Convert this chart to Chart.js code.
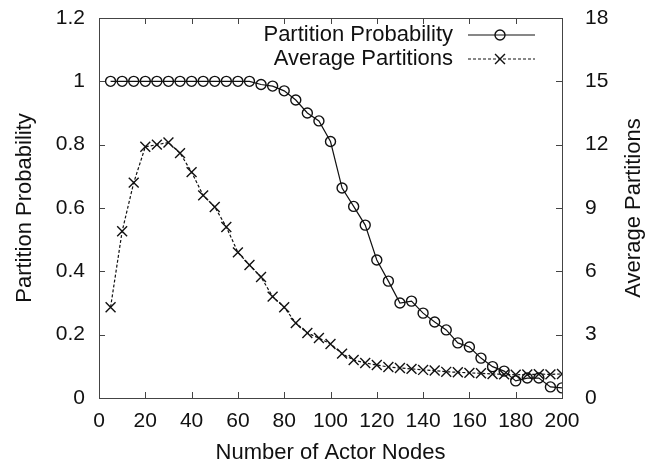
<!DOCTYPE html>
<html>
<head>
<meta charset="utf-8">
<script src="https://cdn.jsdelivr.net/npm/chart.js@4/dist/chart.umd.min.js"></script>
<style>
  html, body { margin: 0; padding: 0; background: #fff; }
  #wrap { width: 651px; height: 466px; }
</style>
</head>
<body>
<div id="wrap"><canvas id="chart" width="651" height="466"></canvas></div>
<script>
// number of actor nodes
const nodes = [5, 10, 15, 20, 25, 30, 35, 40, 45, 50,
  55, 60, 65, 70, 75, 80, 85, 90, 95, 100,
  105, 110, 115, 120, 125, 130, 135, 140, 145, 150,
  155, 160, 165, 170, 175, 180, 185, 190, 195, 200];

// left axis
const partitionProb = [1, 1, 1, 1, 1, 1, 1, 1, 1, 1,
  1, 1, 1, 0.99, 0.985, 0.97, 0.941, 0.9, 0.875, 0.81,
  0.663, 0.605, 0.546, 0.436, 0.369, 0.3, 0.306, 0.268, 0.24, 0.215,
  0.174, 0.161, 0.126, 0.099, 0.085, 0.054, 0.063, 0.063, 0.035, 0.032];

// right axis
const avgPartitions = [4.3, 7.9, 10.2, 11.9, 12.0, 12.1, 11.6, 10.7, 9.6, 9.05,
  8.1, 6.9, 6.3, 5.73, 4.8, 4.3, 3.55, 3.08, 2.84, 2.56,
  2.1, 1.8, 1.66, 1.56, 1.47, 1.42, 1.38, 1.33, 1.3, 1.24,
  1.22, 1.19, 1.17, 1.14, 1.12, 1.1, 1.11, 1.13, 1.12, 1.14];

const xTicks = [0, 20, 40, 60, 80, 100, 120, 140, 160, 180, 200];
const leftTicks = [0, 0.2, 0.4, 0.6, 0.8, 1, 1.2];
const rightTicks = [0, 3, 6, 9, 12, 15, 18];

const FONT = "'Liberation Sans', Arial, Helvetica, sans-serif";
const INK = "#111";
const FRAME = "#444";

function toPoints(xs, ys) {
  return xs.map((x, i) => ({ x: x, y: ys[i] }));
}

// fixed axis box sizes so the plot area lands where the original one is
function fixBox(size) {
  return s => {
    if (s.isHorizontal()) s.height = size; else s.width = size;
    s.paddingTop = 0; s.paddingBottom = 0;
    s.paddingLeft = 0; s.paddingRight = 0;
  };
}

// gnuplot-ish frame, inward ticks, right title and legend
const gnuplotLook = {
  id: "gnuplotLook",
  afterDraw(chart) {
    const ctx = chart.ctx;
    const a = chart.chartArea;
    const xs = chart.scales.x, yl = chart.scales.y, yr = chart.scales.y1;
    const tl = 6;
    ctx.save();
    ctx.strokeStyle = FRAME;
    ctx.lineWidth = 1;
    ctx.beginPath();
    xTicks.forEach(v => {
      const px = Math.round(xs.getPixelForValue(v)) + 0.5;
      ctx.moveTo(px, a.bottom); ctx.lineTo(px, a.bottom - tl);
      ctx.moveTo(px, a.top); ctx.lineTo(px, a.top + tl);
    });
    leftTicks.forEach(v => {
      const py = Math.round(yl.getPixelForValue(v)) + 0.5;
      ctx.moveTo(a.left, py); ctx.lineTo(a.left + tl, py);
    });
    rightTicks.forEach(v => {
      const py = Math.round(yr.getPixelForValue(v)) + 0.5;
      ctx.moveTo(a.right, py); ctx.lineTo(a.right - tl, py);
    });
    ctx.stroke();
    ctx.strokeRect(Math.round(a.left) + 0.5, Math.round(a.top) + 0.5,
      Math.round(a.right - a.left), Math.round(a.bottom - a.top));

    // right axis title, reading bottom to top
    ctx.fillStyle = INK;
    ctx.font = "22px " + FONT;
    ctx.textAlign = "center";
    ctx.textBaseline = "middle";
    ctx.translate(634, (a.top + a.bottom) / 2);
    ctx.rotate(-Math.PI / 2);
    ctx.fillText("Average Partitions", 0, 0);
    ctx.setTransform(1, 0, 0, 1, 0, 0);

    // legend: text on the left, sample line with marker on the right
    chart.data.datasets.forEach((ds, i) => {
      const y = a.top + 17 + i * 24;
      ctx.fillStyle = INK;
      ctx.textAlign = "right";
      ctx.fillText(ds.label, a.right - 109, y);
      ctx.strokeStyle = ds.borderColor;
      ctx.lineWidth = ds.borderWidth;
      ctx.setLineDash(ds.borderDash || []);
      ctx.beginPath();
      ctx.moveTo(a.right - 94, y);
      ctx.lineTo(a.right - 27, y);
      ctx.stroke();
      ctx.setLineDash([]);
      ctx.lineWidth = ds.pointBorderWidth;
      ctx.strokeStyle = ds.pointBorderColor;
      ctx.fillStyle = "transparent";
      Chart.helpers.drawPoint(ctx, {
        pointStyle: ds.pointStyle, radius: ds.pointRadius,
        borderWidth: ds.pointBorderWidth, rotation: 0
      }, a.right - 62, y);
    });
    ctx.restore();
  }
};

new Chart(document.getElementById("chart"), {
  type: "line",
  data: {
    datasets: [
      {
        label: "Partition Probability",
        data: toPoints(nodes, partitionProb),
        yAxisID: "y",
        borderColor: INK,
        borderWidth: 1.2,
        pointStyle: "circle",
        pointRadius: 5,
        pointBorderWidth: 1.4,
        pointBorderColor: INK,
        pointBackgroundColor: "transparent",
        tension: 0,
      },
      {
        label: "Average Partitions",
        data: toPoints(nodes, avgPartitions),
        yAxisID: "y1",
        borderColor: INK,
        borderWidth: 1.2,
        borderDash: [3, 2],
        pointStyle: "crossRot",
        pointRadius: 7,
        pointBorderWidth: 1.4,
        pointBorderColor: INK,
        pointBackgroundColor: "transparent",
        tension: 0,
      },
    ],
  },
  options: {
    responsive: false,
    animation: false,
    devicePixelRatio: 1,
    layout: { padding: { top: 18, left: 0, right: 0, bottom: 0 } },
    plugins: {
      legend: { display: false },
      tooltip: { enabled: false },
    },
    scales: {
      x: {
        type: "linear",
        min: 0,
        max: 200,
        afterBuildTicks: s => { s.ticks = xTicks.map(v => ({ value: v })); },
        afterFit: fixBox(68),
        grid: { display: false, drawTicks: false },
        border: { display: false },
        ticks: { color: INK, font: { family: FONT, size: 21 }, padding: 11, maxRotation: 0 },
        title: {
          display: true, text: "Number of Actor Nodes", color: INK,
          font: { family: FONT, size: 22 }, padding: { top: 0, bottom: 0 },
        },
      },
      y: {
        position: "left",
        min: 0,
        max: 1.2,
        afterBuildTicks: s => { s.ticks = leftTicks.map(v => ({ value: v })); },
        afterFit: fixBox(99),
        grid: { display: false, drawTicks: false },
        border: { display: false },
        ticks: { color: INK, font: { family: FONT, size: 21 }, padding: 14,
          callback: v => String(+v.toFixed(1)) },
        title: {
          display: true, text: "Partition Probability", color: INK,
          font: { family: FONT, size: 22 }, padding: { top: 12, bottom: 0 },
        },
      },
      y1: {
        position: "right",
        min: 0,
        max: 18,
        afterBuildTicks: s => { s.ticks = rightTicks.map(v => ({ value: v })); },
        afterFit: fixBox(89),
        grid: { display: false, drawTicks: false },
        border: { display: false },
        ticks: { color: INK, font: { family: FONT, size: 21 }, padding: 23 },
      },
    },
  },
  plugins: [gnuplotLook],
});
</script>
</body>
</html>
